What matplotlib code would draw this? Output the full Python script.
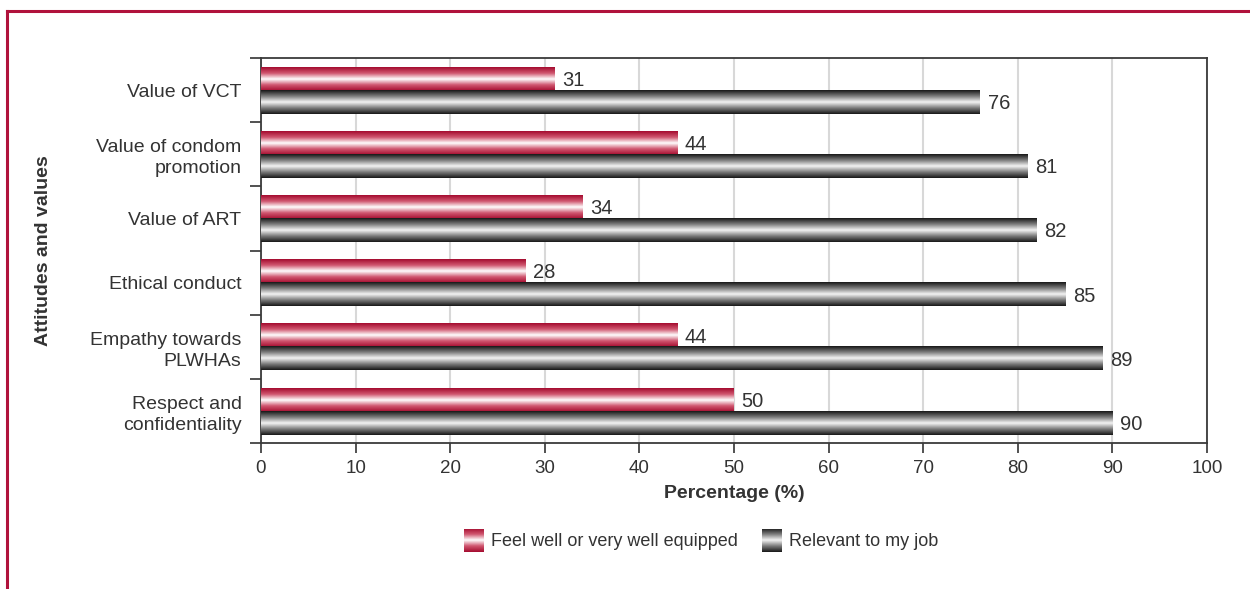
import numpy as np
import matplotlib
matplotlib.use('Agg')
import matplotlib.pyplot as plt
from matplotlib.colors import LinearSegmentedColormap
from matplotlib.lines import Line2D

plt.rcParams['font.family'] = ['Liberation Sans', 'DejaVu Sans']

categories = ['Value of VCT', 'Value of condom\npromotion', 'Value of ART',
              'Ethical conduct', 'Empathy towards\nPLWHAs', 'Respect and\nconfidentiality']
equipped = [31, 44, 34, 28, 44, 50]
relevant = [76, 81, 82, 85, 89, 90]
series_names = ['Feel well or very well equipped', 'Relevant to my job']

txt = '#333333'
red_cm = LinearSegmentedColormap.from_list('redbar', ['#a50d30', '#d0566f', '#ffffff', '#d0566f', '#a50d30'])
gray_cm = LinearSegmentedColormap.from_list('graybar', ['#1a1a1a', '#7d7d7d', '#f4f4f4', '#7d7d7d', '#1a1a1a'])
# vertical shading profile for the bars
grad = np.linspace(0, 1, 48).reshape(-1, 1)


def gbar(ax, x0, x1, y0, y1, cmap):
    ax.imshow(grad, cmap=cmap, aspect='auto', extent=[x0, x1, y1, y0],
              interpolation='bilinear', zorder=3)


fig = plt.figure(figsize=(12.5, 5.89), dpi=100)
ax = fig.add_axes([0.2088, 0.2479, 0.7568, 0.6536])

for i in range(len(categories)):
    gbar(ax, 0, equipped[i], i + 0.15, i + 0.51, red_cm)
    gbar(ax, 0, relevant[i], i + 0.51, i + 0.87, gray_cm)
    ax.text(equipped[i] + 0.8, i + 0.35, str(equipped[i]), va='center', ha='left',
            fontsize=14.5, color=txt, zorder=4)
    ax.text(relevant[i] + 0.8, i + 0.71, str(relevant[i]), va='center', ha='left',
            fontsize=14.5, color=txt, zorder=4)

ax.set_xlim(0, 100)
ax.set_ylim(len(categories), 0)
ax.set_xticks(np.arange(0, 101, 10))
ax.tick_params(axis='x', labelsize=13.5, colors=txt, length=7, width=1.2, direction='out', pad=5)
ax.set_yticks(np.arange(len(categories)) + 0.5)
ax.set_yticklabels(categories, fontsize=14, color=txt, linespacing=1.3)
ax.set_yticks(np.arange(len(categories) + 1), minor=True)
ax.tick_params(axis='y', which='major', length=0, pad=14)
ax.tick_params(axis='y', which='minor', length=8, width=1.2, color=txt)
for lab in ax.get_yticklabels():
    lab.set_multialignment('right')
ax.grid(axis='x', color='#d8d8d8', linewidth=1.5, zorder=0)
ax.set_axisbelow(True)
for s in ax.spines.values():
    s.set_color('#3a3a3a')
    s.set_linewidth(1.3)

ax.set_xlabel('Percentage (%)', fontsize=14, fontweight='bold', color=txt, labelpad=6)
ax.set_ylabel('Attitudes and values', fontsize=14, fontweight='bold', color=txt)
ax.yaxis.set_label_coords(-0.221, 0.5)

# legend with shaded swatches
W, H = 1250.0, 589.0
for x0, cm, name in [(464, red_cm, series_names[0]), (762, gray_cm, series_names[1])]:
    sw = fig.add_axes([x0 / W, 1 - 552 / H, 20 / W, 23 / H])
    sw.imshow(grad, cmap=cm, aspect='auto', interpolation='bilinear')
    sw.axis('off')
    fig.text((x0 + 27) / W, 1 - 541 / H, name, fontsize=13, color=txt, va='center', ha='left')

# frame lines
fig.add_artist(Line2D([7 / W, 1.0], [1 - 11 / H, 1 - 11 / H], color='#b0123c', linewidth=2.2))
fig.add_artist(Line2D([7 / W, 7 / W], [1 - 11 / H, 0.0], color='#b0123c', linewidth=2.2))

fig.savefig('out.png', dpi=100)
